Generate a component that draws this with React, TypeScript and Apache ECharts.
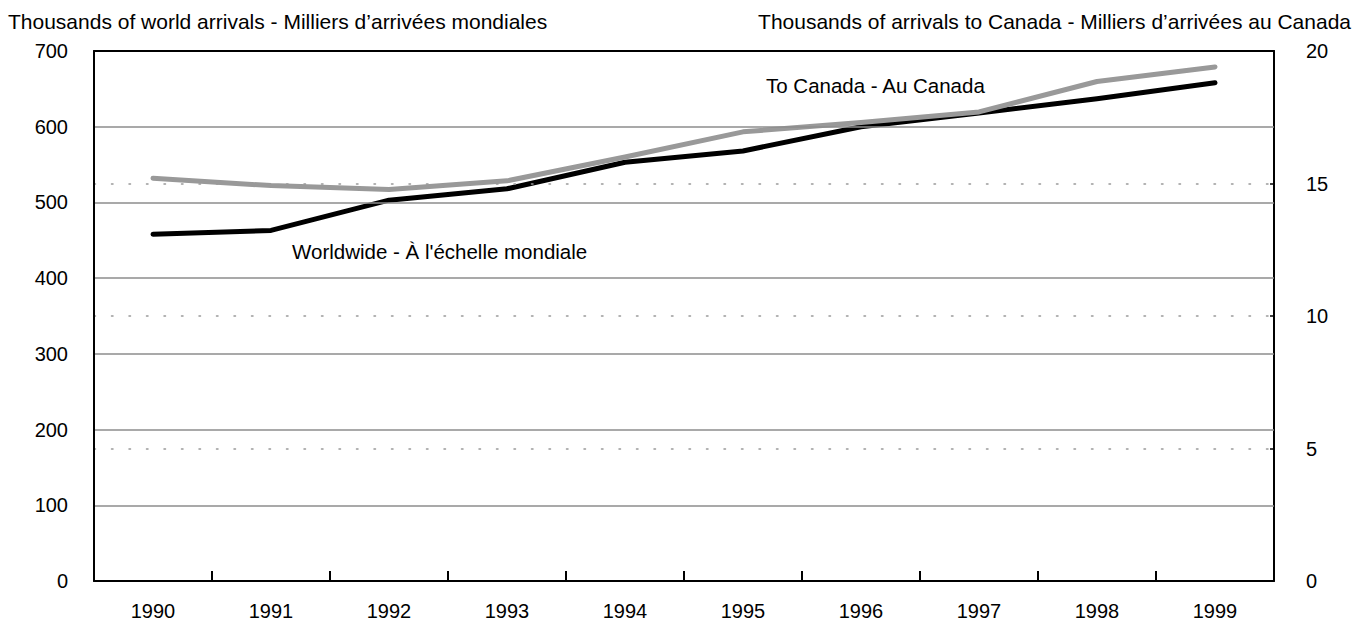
import React, { useEffect, useRef } from "react";
import * as echarts from "echarts";

const years = ["1990", "1991", "1992", "1993", "1994", "1995", "1996", "1997", "1998", "1999"];
const worldwide = [458, 463, 503, 518, 553, 568, 600, 618, 637, 658];
const toCanada = [15.2, 14.92, 14.77, 15.1, 16.0, 16.95, 17.3, 17.7, 18.85, 19.4];
const leftTitle = "Thousands of world arrivals - Milliers d\u2019arrivées mondiales";
const rightTitle = "Thousands of arrivals to Canada - Milliers d\u2019arrivées au Canada";
const worldLabel = "Worldwide - À l'échelle mondiale";
const canadaLabel = "To Canada - Au Canada";

const FONT = "'Liberation Sans', Arial, Helvetica, sans-serif";

export default function App() {
  const ref = useRef<HTMLDivElement>(null);
  useEffect(() => {
    if (!ref.current) return;
    const chart = echarts.init(ref.current, null, { renderer: "svg" });
    chart.setOption({
      animation: false,
      backgroundColor: "#fff",
      textStyle: { fontFamily: FONT, color: "#000" },
      grid: {
        left: 94,
        right: 82,
        top: 51,
        bottom: 38,
        show: false,
      },
      xAxis: [
        {
          type: "category",
          data: years,
          boundaryGap: true,
          z: 5,
          axisLine: { show: true, onZero: false, lineStyle: { color: "#000", width: 2 } },
          axisTick: { show: true, inside: true, length: 10, lineStyle: { color: "#000", width: 2 } },
          axisLabel: { margin: 20, fontSize: 20, color: "#000", fontFamily: FONT },
          splitLine: { show: false },
        },
        {
          type: "category",
          data: years,
          position: "top",
          z: 5,
          axisLine: { show: true, onZero: false, lineStyle: { color: "#000", width: 2 } },
          axisTick: { show: false },
          axisLabel: { show: false },
          splitLine: { show: false },
        },
      ],
      yAxis: [
        {
          type: "value",
          min: 0,
          max: 700,
          interval: 100,
          z: 5,
          axisLine: { show: true, onZero: false, lineStyle: { color: "#000", width: 2 } },
          axisTick: { show: false },
          axisLabel: { margin: 26, fontSize: 20, color: "#000", fontFamily: FONT },
          splitLine: {
            show: true,
            showMinLine: false,
            showMaxLine: false,
            lineStyle: { color: "#8c8c8c", width: 1.5, type: "solid" },
          },
        },
        {
          type: "value",
          min: 0,
          max: 20,
          interval: 5,
          position: "right",
          z: 4,
          axisLine: { show: true, onZero: false, lineStyle: { color: "#000", width: 2 } },
          axisTick: { show: true, inside: true, length: 4, lineStyle: { color: "#000", width: 1.5 } },
          axisLabel: { margin: 32, fontSize: 20, color: "#000", fontFamily: FONT },
          splitLine: {
            show: true,
            showMinLine: false,
            showMaxLine: false,
            lineStyle: { color: "#999", width: 1.5, type: [1.5, 16], cap: "round" },
          },
        },
      ],
      graphic: [
        {
          type: "text",
          left: 8,
          top: 11,
          style: { text: leftTitle, fontSize: 21, fill: "#000", fontFamily: FONT },
        },
        {
          type: "text",
          right: 5,
          top: 11,
          style: { text: rightTitle, fontSize: 21, fill: "#000", fontFamily: FONT },
        },
        {
          type: "text",
          left: 292,
          top: 241,
          style: { text: worldLabel, fontSize: 20.5, fill: "#000", fontFamily: FONT },
        },
        {
          type: "text",
          left: 766,
          top: 75,
          style: { text: canadaLabel, fontSize: 20.5, fill: "#000", fontFamily: FONT },
        },
      ],
      series: [
        {
          name: "Worldwide",
          type: "line",
          yAxisIndex: 0,
          data: worldwide,
          symbol: "none",
          lineStyle: { color: "#000", width: 5, cap: "round", join: "round" },
          z: 3,
        },
        {
          name: "To Canada",
          type: "line",
          yAxisIndex: 1,
          data: toCanada,
          symbol: "none",
          lineStyle: { color: "#999", width: 5, cap: "round", join: "round" },
          z: 4,
        },
      ],
    });
    return () => chart.dispose();
  }, []);
  return <div ref={ref} style={{ width: 1356, height: 621, position: "absolute", left: 0, top: 0 }} />;
}
